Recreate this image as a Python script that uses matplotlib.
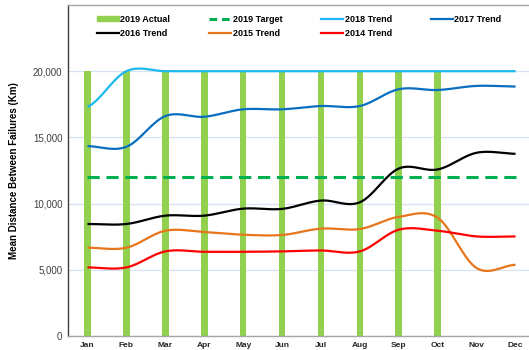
import numpy as np
from matplotlib import pyplot as plt
from matplotlib.patches import Patch
from matplotlib.lines import Line2D

plt.rcParams['font.family'] = ['Liberation Sans', 'DejaVu Sans']

months = ["Jan", "Feb", "Mar", "Apr", "May", "Jun",
          "Jul", "Aug", "Sep", "Oct", "Nov", "Dec"]

actual_2019 = [20000, 20000, 20000, 20000, 20000, 20000, 20000, 20000, 20000, 20000]
target_2019 = 12000
trend_2018 = [17300, 20000, 20000, 20000, 20000, 20000, 20000, 20000, 20000, 20000, 20000, 20000]
trend_2017 = [14340, 14290, 16610, 16560, 17120, 17120, 17370, 17370, 18640, 18580, 18890, 18840]
trend_2016 = [8460, 8460, 9090, 9090, 9620, 9600, 10230, 10100, 12650, 12580, 13840, 13760]
trend_2015 = [6670, 6670, 7950, 7850, 7650, 7630, 8110, 8080, 9000, 8930, 5130, 5380]
trend_2014 = [5180, 5180, 6390, 6360, 6360, 6390, 6460, 6390, 8030, 7950, 7520, 7520]


def smooth(y, n=30):
    # catmull-rom style curve, like a spreadsheet's "smoothed line"
    y = np.asarray(y, dtype=float)
    x = np.arange(len(y))
    p = np.concatenate([[y[0]], y, [y[-1]]])
    xs, ys = [], []
    for i in range(len(y) - 1):
        p0, p1, p2, p3 = p[i], p[i + 1], p[i + 2], p[i + 3]
        m1 = (p2 - p0) / 2
        m2 = (p3 - p1) / 2
        t = np.linspace(0, 1, n, endpoint=(i == len(y) - 2))
        h00 = 2 * t**3 - 3 * t**2 + 1
        h10 = t**3 - 2 * t**2 + t
        h01 = -2 * t**3 + 3 * t**2
        h11 = t**3 - t**2
        xs.append(x[i] + t)
        ys.append(h00 * p1 + h10 * m1 + h01 * p2 + h11 * m2)
    return np.concatenate(xs), np.concatenate(ys)


fig = plt.figure(figsize=(5.29, 3.5), dpi=100)
ax = fig.add_axes([68 / 529, 14 / 350, 467 / 529, 331 / 350])

ax.bar(np.arange(len(actual_2019)), actual_2019, width=0.17, color="#92D050", zorder=2)
ax.plot([0, len(months) - 1], [target_2019, target_2019], color="#00B050", lw=2.2,
        dashes=(4, 2.2), zorder=3)

trends = [(trend_2018, "#1DB8F0"), (trend_2017, "#0A6EC0"), (trend_2016, "black"),
          (trend_2015, "#E8751A"), (trend_2014, "#FF0000")]
for vals, col in trends:
    sx, sy = smooth(vals)
    ax.plot(sx, sy, color=col, lw=1.6, zorder=3, solid_capstyle="butt")

ax.set_xlim(-0.5, 11.5)
ax.set_ylim(0, 25000)
ax.set_yticks(np.arange(0, 20001, 5000))
ax.set_yticklabels([f"{v:,}" for v in range(0, 20001, 5000)], fontsize=7, color="#404040")
ax.set_xticks(np.arange(len(months)))
ax.set_xticklabels(months, fontsize=6, fontweight="bold", color="#262626")
ax.tick_params(length=0, pad=4)
ax.grid(axis="y", color="#D9E2F0", lw=0.9, zorder=0)
ax.set_axisbelow(True)

ax.spines["left"].set_color("#404040")
ax.spines["bottom"].set_color("#A6A6A6")
ax.spines["top"].set_color("#A6A6A6")
ax.spines["right"].set_visible(False)
for s in ["left", "bottom", "top"]:
    ax.spines[s].set_linewidth(1.0)

ax.set_ylabel("Mean Distance Between Failures (Km)", fontsize=7, fontweight="bold",
              labelpad=10)

handles = [Patch(color="#92D050"),
           Line2D([], [], color="black", lw=1.6),
           Line2D([], [], color="#00B050", lw=2.2, dashes=(2.5, 1.6)),
           Line2D([], [], color="#E8751A", lw=1.6),
           Line2D([], [], color="#1DB8F0", lw=1.6),
           Line2D([], [], color="#FF0000", lw=1.6),
           Line2D([], [], color="#0A6EC0", lw=1.6)]
labels = ["2019 Actual", "2016 Trend", "2019 Target", "2015 Trend",
          "2018 Trend", "2014 Trend", "2017 Trend"]
ax.legend(handles, labels, ncol=4, loc="upper left", bbox_to_anchor=(29 / 467, 1 - 10 / 331),
          frameon=False, prop={"size": 6.5, "weight": "bold"}, handlelength=2.45,
          handleheight=0.45, handletextpad=0.15, columnspacing=4.3, labelspacing=0.5,
          borderpad=0, borderaxespad=0)

plt.savefig("out.png", dpi=100)
